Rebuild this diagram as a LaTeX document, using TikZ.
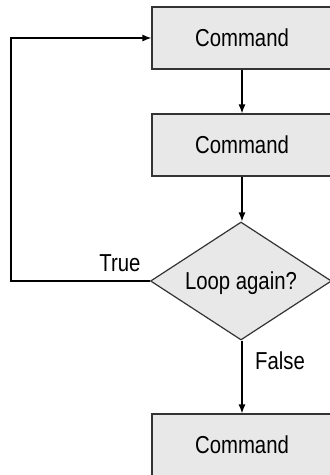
\documentclass[tikz,border=0pt]{standalone}
\usepackage{fontspec}
\setmainfont{Liberation Sans}[FakeStretch=0.83]
\usetikzlibrary{arrows.meta, shapes.geometric}

\begin{document}
\begin{tikzpicture}[x=1pt, y=-1pt, >={Latex[length=9pt,width=7pt]}, line width=1.2pt,
    cmdbox/.style={draw=black!80, fill=black!9, minimum width=180pt, minimum height=62pt, inner sep=0pt},
    testbox/.style={diamond, aspect=1.53, draw=black!80, fill=black!9, minimum width=181pt, minimum height=118pt, inner sep=0pt, text depth=0pt},
    every node/.style={font=\fontsize{24.5}{29}\selectfont}]
    % khung cắt theo ảnh gốc
    \clip (0,0) rectangle (330,475);

    % 1. Các khối lệnh và khối điều kiện
    \node[cmdbox] (cmd1) at (242,38) {Command};
    \node[cmdbox] (cmd2) at (242,145) {Command};
    \node[testbox] (loop) at (241,281) {Loop again?};
    \node[cmdbox] (cmd3) at (242,445) {Command};

    % 2. Các mũi tên đi xuống
    \draw[->] (cmd1) -- (cmd2);
    \draw[->] (cmd2) -- (cmd2 |- loop.north);
    \draw[->] (cmd2 |- loop.south) -- (cmd3);

    % 3. Vòng lặp quay lại
    \coordinate (back) at (11,281);
    \draw[->] (loop.west) -- (back) |- (cmd1.west);

    % 4. Nhãn
    \node (true) at (120,263.5) {True};
    \node (false) at (280,361) {False};
\end{tikzpicture}
\end{document}
